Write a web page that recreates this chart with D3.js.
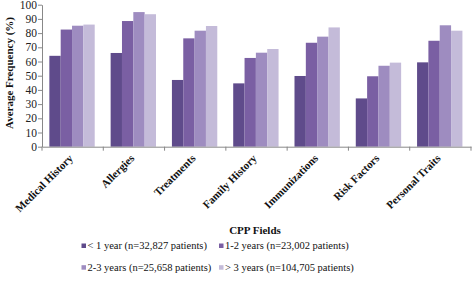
<!DOCTYPE html>
<html><head><meta charset="utf-8">
<script src="https://cdn.jsdelivr.net/npm/d3@7"></script>
<style>body{margin:0;background:#fff}svg{display:block}</style>
</head><body>
<script>
const categories = ["Medical History","Allergies","Treatments","Family History","Immunizations","Risk Factors","Personal Traits"];
const seriesNames = ["< 1 year (n=32,827 patients)","1-2 years (n=23,002 patients)","2-3 years (n=25,658 patients)","> 3 years (n=104,705 patients)"];
const lt1 = [64, 66, 47, 44.6, 49.8, 34, 59.4];
const y1to2 = [82.5, 88.5, 76.3, 62.5, 73.2, 49.6, 74.6];
const y2to3 = [85.2, 94.8, 81.7, 66.2, 77.5, 57, 85.5];
const gt3 = [86, 93.3, 85, 68.8, 84, 59.2, 81.7];
const yTicks = [0,10,20,30,40,50,60,70,80,90,100];
const colors = ["#5f4b8b","#7a5fa3","#9e8cc0","#c4bbd9"];
const series = [lt1, y1to2, y2to3, gt3];

const W=472,H=283;
const svg=d3.select("body").append("svg").attr("width",W).attr("height",H);
const serif="Liberation Serif";
const x0=d3.scaleBand().domain(categories).range([42,471]).padding(0);
const x1=d3.scaleBand().domain(d3.range(4)).range([x0.bandwidth()*0.12,x0.bandwidth()*0.86]);
const y=d3.scaleLinear().domain([0,100]).range([146.7,4.7]);

const g=svg.append("g");
categories.forEach((c,i)=>{
  series.forEach((s,j)=>{
    g.append("rect").attr("x",x0(c)+x1(j)).attr("width",x1.bandwidth())
     .attr("y",y(s[i])).attr("height",y(0)-y(s[i])).attr("fill",colors[j]);
  });
});

// y axis
const ya=svg.append("g").attr("transform","translate(42,0)").call(d3.axisLeft(y).tickValues(yTicks).tickSize(4).tickSizeOuter(0));
ya.select(".domain").attr("stroke","#888");
ya.selectAll(".tick line").attr("stroke","#888");
ya.selectAll("text").attr("font-family",serif).attr("font-size","11.5px").attr("fill","#222").attr("x",-5);

// x axis
const xa=svg.append("g").attr("transform","translate(0,146.7)").call(d3.axisBottom(x0).tickSize(0).tickSizeOuter(0));
xa.select(".domain").attr("stroke","#888");
xa.selectAll(".tick text").remove();
const edges=categories.map(c=>x0(c)).concat([x0.range()[1]]);
edges.forEach(e=>xa.append("line").attr("x1",e).attr("x2",e).attr("y1",0).attr("y2",4).attr("stroke","#888"));
categories.forEach(c=>{
  const cx=x0(c)+x0.bandwidth()/2+1;
  svg.append("text").attr("transform",`translate(${cx},159) rotate(-45)`)
   .attr("text-anchor","end").attr("font-family",serif).attr("font-weight","bold").attr("font-size","11px").attr("fill","#111").text(c);
});

svg.append("text").attr("transform","translate(13,73) rotate(-90)").attr("text-anchor","middle")
 .attr("font-family",serif).attr("font-weight","bold").attr("font-size","11px").attr("fill","#111").text("Average Frequency (%)");
svg.append("text").attr("x",255).attr("y",234).attr("text-anchor","middle")
 .attr("font-family",serif).attr("font-weight","bold").attr("font-size","11px").attr("fill","#111").text("CPP Fields");

const legPos=[[81.5,246],[219,246],[81.5,267.7],[219,267.7]];
seriesNames.forEach((n,j)=>{
  const [lx,ly]=legPos[j];
  svg.append("rect").attr("x",lx).attr("y",ly-2.5).attr("width",4.5).attr("height",4.5).attr("fill",colors[j]);
  svg.append("text").attr("x",lx+6).attr("y",ly+3).attr("font-family",serif).attr("font-size","10.5px").attr("fill","#111").text(n);
});
</script>
</body></html>
